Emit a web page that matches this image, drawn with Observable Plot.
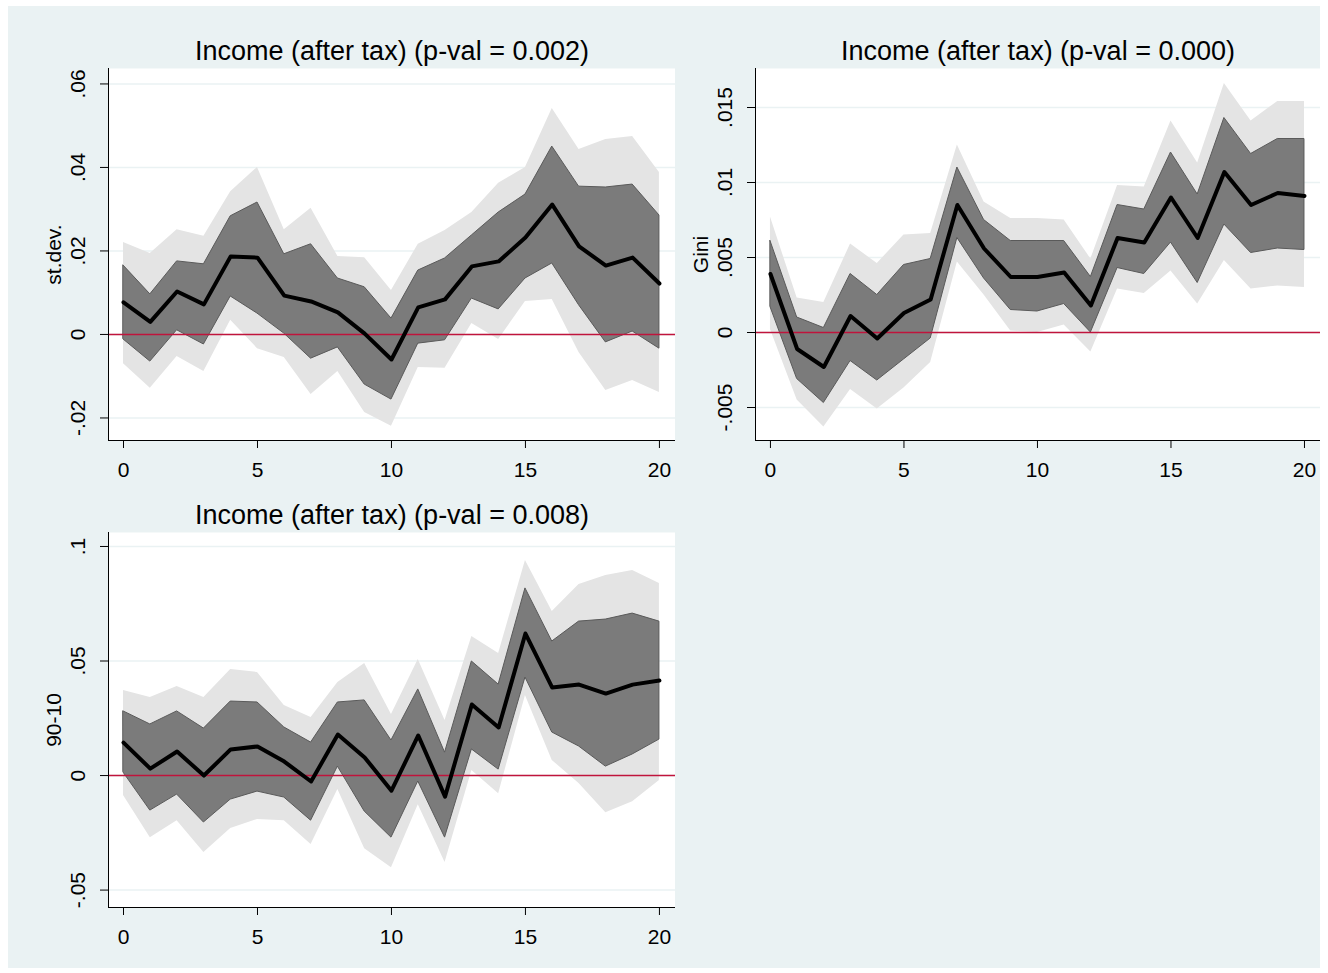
<!DOCTYPE html>
<html><head><meta charset="utf-8">
<script src="https://cdn.jsdelivr.net/npm/d3@7"></script>
<script src="https://cdn.jsdelivr.net/npm/@observablehq/plot@0.6"></script>
<style>
body{margin:0;background:#fff;font-family:"Liberation Sans",Arial,sans-serif}
#wrap{position:absolute;left:8px;top:6px;width:1312px;height:962px;background:#eaf2f3}
.p{position:absolute}
</style></head><body><div id="wrap"></div>
<script>
const horizon = d3.range(0,21);
const p1Line=[.0077,.003,.0103,.0072,.0187,.0184,.0093,.0079,.0053,.0002,-.006,.0065,.0084,.0163,.0175,.0232,.0311,.0211,.0165,.0184,.0122];
const p1DarkHi=[.0165,.0096,.0175,.0168,.0283,.0316,.0192,.0216,.0134,.0113,.0038,.0153,.0182,.0237,.0292,.0335,.045,.0354,.0352,.0359,.0285];
const p1DarkLo=[-.0012,-.0065,.001,-.0024,.0091,.005,.0002,-.0058,-.0031,-.012,-.0156,-.0022,-.0014,.0086,.006,.0134,.017,.007,-.0019,.0007,-.0034];
const p1LightHi=[.022,.0194,.0251,.0235,.0342,.04,.0251,.0302,.0187,.0184,.0105,.0216,.0249,.0292,.0362,.04,.0541,.0443,.0467,.0474,.0388];
const p1LightLo=[-.007,-.0129,-.0053,-.0089,.0034,-.0034,-.0055,-.0144,-.0089,-.0187,-.022,-.0079,-.0081,.0026,-.0012,.0079,.0084,-.0043,-.0134,-.011,-.0139];
const p2Line=[.0039,-.0011,-.0023,.0011,-.0004,.0013,.0022,.0085,.0056,.0037,.0037,.004,.0018,.0063,.006,.009,.0063,.0107,.0085,.0093,.0091];
const p2DarkHi=[.0061,.001,.0003,.0039,.0025,.0045,.0049,.011,.0075,.0061,.0061,.0061,.0037,.0085,.0082,.012,.0092,.0143,.0119,.0129,.0129];
const p2DarkLo=[.0017,-.0031,-.0047,-.0019,-.0032,-.0018,-.0004,.0063,.0036,.0015,.0014,.0019,0,.0043,.0039,.006,.0033,.0072,.0053,.0056,.0055];
const p2LightHi=[.0077,.0023,.002,.0059,.0046,.0065,.0066,.0125,.0087,.0076,.0076,.0075,.0049,.0098,.0097,.0141,.0113,.0166,.0141,.0154,.0154];
const p2LightLo=[.0002,-.0045,-.0063,-.0038,-.0051,-.0037,-.002,.0047,.0025,.0001,0,.0005,-.0013,.0029,.0026,.0041,.0019,.0048,.0029,.0031,.003];
const p3Line=[.0144,.003,.0105,0,.0114,.0127,.0061,-.0026,.0179,.0079,-.0066,.0175,-.0092,.031,.021,.062,.0384,.0397,.0358,.0397,.0415];
const p3DarkHi=[.028,.0223,.028,.0205,.0323,.0319,.021,.0144,.0319,.0328,.0153,.0376,.01,.0498,.0397,.0817,.0585,.0672,.0681,.0707,.0672];
const p3DarkLo=[.0013,-.0153,-.0083,-.0205,-.0105,-.007,-.0096,-.0197,.0039,-.0157,-.0271,-.0026,-.0271,.0114,.0026,.0428,.0188,.0127,.0039,.0092,.0157];
const p3LightHi=[.0371,.0341,.0389,.0341,.0463,.045,.0306,.0253,.0406,.0489,.0266,.0507,.024,.0607,.0533,.0939,.0716,.0834,.0873,.0895,.0838];
const p3LightLo=[-.0087,-.0271,-.0197,-.0336,-.0231,-.0192,-.0197,-.0301,-.0061,-.0319,-.0402,-.0127,-.038,.0022,-.0079,.0349,.0066,-.0035,-.0162,-.0114,-.0022];
const titles=["Income (after tax) (p-val = 0.002)","Income (after tax) (p-val = 0.000)","Income (after tax) (p-val = 0.008)"];
const ylabels=["st.dev.","Gini","90-10"];
const yticks1=[-.02,0,.02,.04,.06], yticks1Lab=["-.02","0",".02",".04",".06"];
const yticks2=[-.005,0,.005,.01,.015], yticks2Lab=["-.005","0",".005",".01",".015"];
const yticks3=[-.05,0,.05,.1], yticks3Lab=["-.05","0",".05",".1"];
const xticks=[0,5,10,15,20];

function panel(left,top,w,h,ydom,line,dh,dl,lh,ll,ticks,labs,title,ylab){
  const rows=horizon.map((x,i)=>({h:x,m:line[i],dh:dh[i],dl:dl[i],lh:lh[i],ll:ll[i]}));
  const fmt=d=>labs[ticks.indexOf(d)];
  const svg=Plot.plot({
    width:w,height:h,marginLeft:90,marginRight:0,marginTop:40,marginBottom:44,
    style:{background:"transparent",fontFamily:"Liberation Sans, Arial, sans-serif",fontSize:"21px",color:"#000"},
    x:{domain:[-0.56,20.6],label:null},
    y:{domain:ydom,label:null},
    marks:[
      Plot.frame({fill:"white",stroke:null}),
      Plot.gridY(ticks,{stroke:"#eaf2f3",strokeOpacity:1,strokeWidth:1.5}),
      Plot.areaY(rows,{x:"h",y1:"ll",y2:"lh",fill:"#e4e4e4"}),
      Plot.areaY(rows,{x:"h",y1:"dl",y2:"dh",fill:"#7b7b7b",stroke:"#5a5a5a",strokeWidth:1}),
      Plot.ruleY([0],{stroke:"#c0143c",strokeWidth:1.5}),
      Plot.lineY(rows,{x:"h",y:"m",stroke:"#000",strokeWidth:4}),
      Plot.axisX({ticks:xticks,tickSize:8,tickPadding:14,fontSize:21,label:null}),
      Plot.axisY({ticks:ticks,tickFormat:fmt,tickSize:8,tickPadding:16,tickRotate:-90,label:ylab,labelAnchor:"center",labelOffset:62,labelArrow:"none",fontSize:21}),
      Plot.ruleX([-0.56],{stroke:"#000"}),
      Plot.ruleY([ydom[0]],{stroke:"#000"}),
      Plot.text([title],{frameAnchor:"top",dy:-28,fontSize:27,fill:"#000"})
    ]
  });
  const d=document.createElement("div");d.className="p";d.style.left=left+"px";d.style.top=top+"px";
  d.appendChild(svg);document.getElementById("wrap").appendChild(d);
}
panel(10,22,657,456,[-0.0254,0.0637],p1Line,p1DarkHi,p1DarkLo,p1LightHi,p1LightLo,yticks1,yticks1Lab,titles[0],ylabels[0]);
panel(657,22,655,456,[-0.0072,0.0176],p2Line,p2DarkHi,p2DarkLo,p2LightHi,p2LightLo,yticks2,yticks2Lab,titles[1],ylabels[1]);
panel(10,486,657,459,[-0.0576,0.1061],p3Line,p3DarkHi,p3DarkLo,p3LightHi,p3LightLo,yticks3,yticks3Lab,titles[2],ylabels[2]);
</script></body></html>
